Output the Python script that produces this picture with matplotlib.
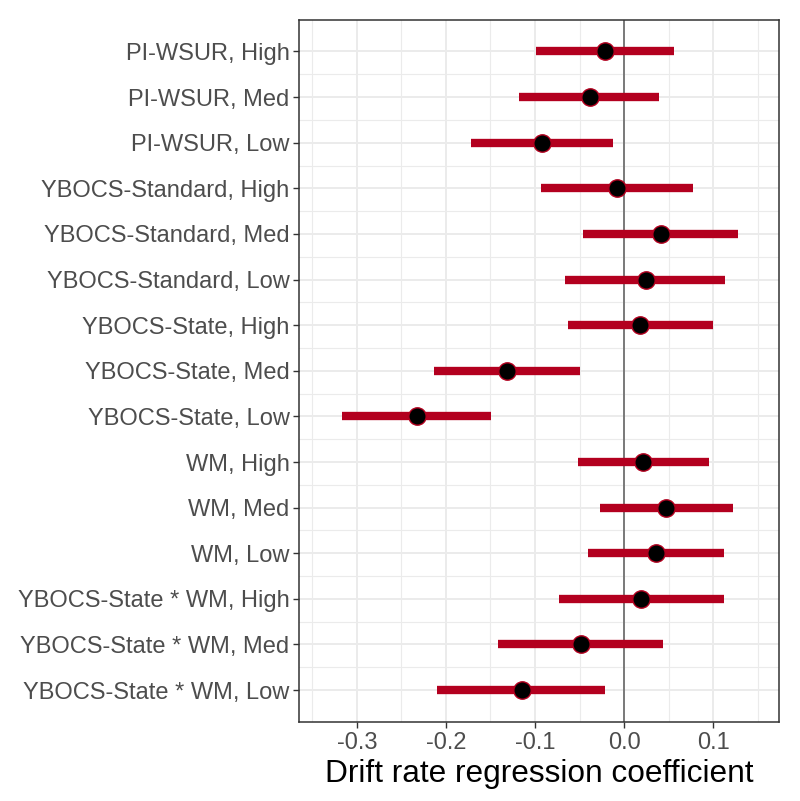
import numpy as np
import matplotlib.pyplot as plt
from matplotlib.ticker import MultipleLocator

plt.rcParams['font.family'] = ['Liberation Sans', 'DejaVu Sans']

# rows from top to bottom
labels = ['PI-WSUR, High', 'PI-WSUR, Med', 'PI-WSUR, Low',
          'YBOCS-Standard, High', 'YBOCS-Standard, Med', 'YBOCS-Standard, Low',
          'YBOCS-State, High', 'YBOCS-State, Med', 'YBOCS-State, Low',
          'WM, High', 'WM, Med', 'WM, Low',
          'YBOCS-State * WM, High', 'YBOCS-State * WM, Med', 'YBOCS-State * WM, Low']
estimate = [-0.021, -0.038, -0.092, -0.008, 0.041, 0.025, 0.018, -0.132, -0.233,
            0.021, 0.047, 0.036, 0.019, -0.048, -0.115]
lower = [-0.099, -0.118, -0.172, -0.093, -0.046, -0.066, -0.063, -0.213, -0.317,
         -0.052, -0.027, -0.040, -0.073, -0.142, -0.210]
upper = [0.056, 0.039, -0.012, 0.077, 0.128, 0.113, 0.100, -0.049, -0.149,
         0.095, 0.122, 0.112, 0.112, 0.044, -0.021]
xticks = [-0.3, -0.2, -0.1, 0.0, 0.1]

red = '#B3001F'
y = np.arange(len(labels))[::-1] + 1

fig = plt.figure(figsize=(8, 8.01), dpi=100)
ax = fig.add_axes([0.374, 0.0986, 0.600, 0.877])

ax.axvline(0, color='#666666', lw=1.2, zorder=2)
ax.hlines(y, lower, upper, color=red, lw=6, zorder=3)
ax.plot(estimate, y, 'o', ms=12.5, mfc='black', mec=red, mew=1, zorder=4)

ax.set_xlim(-0.3648, 0.1742)
ax.set_ylim(0.3, len(labels) + 0.7)
ax.set_yticks(y)
ax.set_yticklabels(labels)
ax.set_yticks(np.arange(1.5, len(labels), 1), minor=True)
ax.set_xticks(xticks)
ax.set_xticklabels(['%.1f' % t for t in xticks])
ax.xaxis.set_minor_locator(MultipleLocator(0.05))

ax.grid(which='major', color='#EBEBEB', lw=1.4, zorder=0)
ax.grid(which='minor', color='#EBEBEB', lw=0.8, zorder=0)
ax.set_axisbelow(True)
ax.tick_params(which='major', length=4, width=1, color='#333333',
               labelsize=17, labelcolor='#4D4D4D', pad=3)
ax.tick_params(which='minor', length=0)
for s in ax.spines.values():
    s.set_color('#333333')
    s.set_linewidth(1.1)

ax.set_xlabel('Drift rate regression coefficient', fontsize=22.8, color='black', labelpad=4)

fig.savefig('out.png', dpi=100)
